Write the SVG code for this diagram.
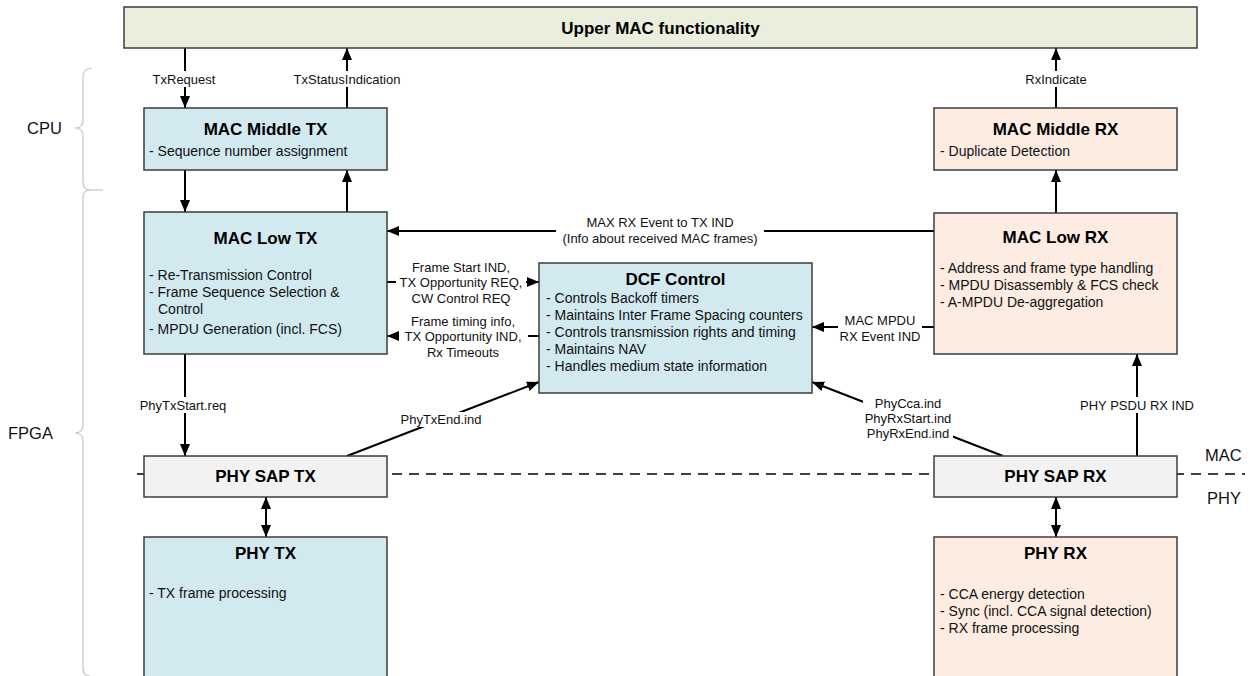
<svg xmlns="http://www.w3.org/2000/svg" width="1251" height="676" viewBox="0 0 1251 676">
<defs>
<marker id="ah" viewBox="0 0 12 10" markerWidth="12" markerHeight="10" refX="12" refY="5" orient="auto-start-reverse" markerUnits="userSpaceOnUse">
<path d="M0,0 L12,5 L0,10 z" fill="#000"/>
</marker>
<style>
.box{stroke:#3c3c3c;stroke-width:1.5}
.um{fill:#EAEEDC}
.bl{fill:#D2E9EF}
.pe{fill:#FCECE1}
.gr{fill:#F2F2F2}
.t{font-family:"Liberation Sans",Arial,sans-serif;font-weight:bold;font-size:17px;fill:#000;text-anchor:middle}
.b{font-family:"Liberation Sans",Arial,sans-serif;font-size:14px;fill:#111}
.l{font-family:"Liberation Sans",Arial,sans-serif;font-size:13px;fill:#111;text-anchor:middle}
.s{font-family:"Liberation Sans",Arial,sans-serif;font-size:16.5px;fill:#111}
.c{stroke:#000;stroke-width:2;fill:none}
.ca{stroke:#000;stroke-width:2;fill:none;marker-end:url(#ah)}
.bg{fill:#fff}
.br{stroke:#c4c4c4;stroke-width:1.2;fill:none}
</style>
</defs>
<rect width="1251" height="676" fill="#fff"/>

<g id="side-labels">
<path class="br" d="M92,68 Q83,68 83,78 L83,120 Q83,128 75,128 Q83,128 83,136 L83,182 Q83,190 90,190"/>
<path class="br" d="M90,190 Q83,190 83,198 L83,425 Q83,433 75,433 Q83,433 83,441 L83,668 Q83,676 90,676"/>
<line class="br" x1="90" y1="190" x2="103" y2="190"/>
<text class="s" x="27" y="134">CPU</text>
<text class="s" x="8" y="439">FPGA</text>
<text class="s" x="1205" y="461">MAC</text>
<text class="s" x="1207" y="504">PHY</text>
</g>

<line id="mac-phy-boundary" x1="137" y1="474" x2="1245" y2="474" stroke="#000" stroke-width="1.4" stroke-dasharray="10,7"/>

<g id="connectors">
<line class="ca" x1="185" y1="48" x2="185" y2="108"/>
<rect class="bg" x="149" y="71" width="70" height="16"/>
<text class="l" x="184" y="84">TxRequest</text>

<line class="ca" x1="347" y1="108" x2="347" y2="48"/>
<rect class="bg" x="292" y="71" width="110" height="16"/>
<text class="l" x="347" y="84">TxStatusIndication</text>

<line class="ca" x1="1056" y1="108" x2="1056" y2="48"/>
<rect class="bg" x="1023" y="71" width="66" height="16"/>
<text class="l" x="1056" y="84">RxIndicate</text>

<line class="ca" x1="185" y1="170" x2="185" y2="212"/>
<line class="ca" x1="347" y1="212" x2="347" y2="170"/>
<line class="ca" x1="1056" y1="213" x2="1056" y2="170"/>

<line class="ca" x1="934" y1="231" x2="387" y2="231"/>
<rect class="bg" x="556" y="214" width="208" height="32"/>
<text class="l" x="660" y="227">MAX RX Event to TX IND</text>
<text class="l" x="660" y="243">(Info about received MAC frames)</text>

<line class="ca" x1="387" y1="282" x2="539" y2="282"/>
<rect class="bg" x="396" y="259" width="130" height="47"/>
<text class="l" x="461" y="272">Frame Start IND,</text>
<text class="l" x="461" y="287">TX Opportunity REQ,</text>
<text class="l" x="461" y="303">CW Control REQ</text>

<line class="ca" x1="539" y1="336" x2="387" y2="336"/>
<rect class="bg" x="399" y="313" width="129" height="47"/>
<text class="l" x="463" y="326">Frame timing info,</text>
<text class="l" x="463" y="341">TX Opportunity IND,</text>
<text class="l" x="463" y="357">Rx Timeouts</text>

<line class="ca" x1="934" y1="327" x2="812" y2="327"/>
<rect class="bg" x="838" y="312" width="84" height="31"/>
<text class="l" x="880" y="325">MAC MPDU</text>
<text class="l" x="880" y="341">RX Event IND</text>

<line class="ca" x1="347" y1="456" x2="539" y2="382"/>
<rect class="bg" x="400" y="412" width="82" height="15"/>
<text class="l" x="441" y="424">PhyTxEnd.ind</text>

<line class="ca" x1="1003" y1="456" x2="812" y2="382"/>
<rect class="bg" x="863" y="396" width="90" height="45"/>
<text class="l" x="908" y="408">PhyCca.ind</text>
<text class="l" x="908" y="423">PhyRxStart.ind</text>
<text class="l" x="908" y="438">PhyRxEnd.ind</text>

<line class="ca" x1="1137" y1="456" x2="1137" y2="354"/>
<rect class="bg" x="1078" y="397" width="118" height="16"/>
<text class="l" x="1137" y="410">PHY PSDU RX IND</text>

<line class="ca" x1="185" y1="354" x2="185" y2="456"/>
<rect class="bg" x="138" y="397" width="92" height="16"/>
<text class="l" x="183" y="410">PhyTxStart.req</text>

<line class="c" x1="266" y1="497" x2="266" y2="537" marker-start="url(#ah)" marker-end="url(#ah)"/>
<line class="c" x1="1056" y1="497" x2="1056" y2="537" marker-start="url(#ah)" marker-end="url(#ah)"/>
</g>

<g id="upper-mac">
<rect class="box um" x="124" y="7" width="1073" height="41"/>
<text class="t" x="660.5" y="34">Upper MAC functionality</text>
</g>

<g id="mac-middle-tx">
<rect class="box bl" x="144" y="108" width="243" height="62"/>
<text class="t" x="265.5" y="135">MAC Middle TX</text>
<text class="b" x="149" y="156">- Sequence number assignment</text>
</g>

<g id="mac-middle-rx">
<rect class="box pe" x="934" y="108" width="243" height="62"/>
<text class="t" x="1055.5" y="135">MAC Middle RX</text>
<text class="b" x="940" y="156">- Duplicate Detection</text>
</g>

<g id="mac-low-tx">
<rect class="box bl" x="144" y="212" width="243" height="142"/>
<text class="t" x="265.5" y="244">MAC Low TX</text>
<text class="b" x="149" y="280">- Re-Transmission Control</text>
<text class="b" x="149" y="297">- Frame Sequence Selection &amp;</text>
<text class="b" x="158" y="314">Control</text>
<text class="b" x="149" y="334">- MPDU Generation (incl. FCS)</text>
</g>

<g id="mac-low-rx">
<rect class="box pe" x="934" y="213" width="243" height="141"/>
<text class="t" x="1055.5" y="243">MAC Low RX</text>
<text class="b" x="940" y="273">- Address and frame type handling</text>
<text class="b" x="940" y="290">- MPDU Disassembly &amp; FCS check</text>
<text class="b" x="940" y="307">- A-MPDU De-aggregation</text>
</g>

<g id="dcf-control">
<rect class="box bl" x="539" y="263" width="273" height="130"/>
<text class="t" x="675.5" y="285">DCF Control</text>
<text class="b" x="546" y="303">- Controls Backoff timers</text>
<text class="b" x="546" y="320">- Maintains Inter Frame Spacing counters</text>
<text class="b" x="546" y="337">- Controls transmission rights and timing</text>
<text class="b" x="546" y="354">- Maintains NAV</text>
<text class="b" x="546" y="371">- Handles medium state information</text>
</g>

<g id="phy-sap-tx">
<rect class="box gr" x="144" y="456" width="243" height="41"/>
<text class="t" x="265.5" y="482">PHY SAP TX</text>
</g>

<g id="phy-sap-rx">
<rect class="box gr" x="934" y="456" width="243" height="41"/>
<text class="t" x="1055.5" y="482">PHY SAP RX</text>
</g>

<g id="phy-tx">
<rect class="box bl" x="144" y="537" width="243" height="150"/>
<text class="t" x="265.5" y="559">PHY TX</text>
<text class="b" x="149" y="598">- TX frame processing</text>
</g>

<g id="phy-rx">
<rect class="box pe" x="934" y="537" width="243" height="150"/>
<text class="t" x="1055.5" y="559">PHY RX</text>
<text class="b" x="940" y="599">- CCA energy detection</text>
<text class="b" x="940" y="616">- Sync (incl. CCA signal detection)</text>
<text class="b" x="940" y="633">- RX frame processing</text>
</g>
</svg>
